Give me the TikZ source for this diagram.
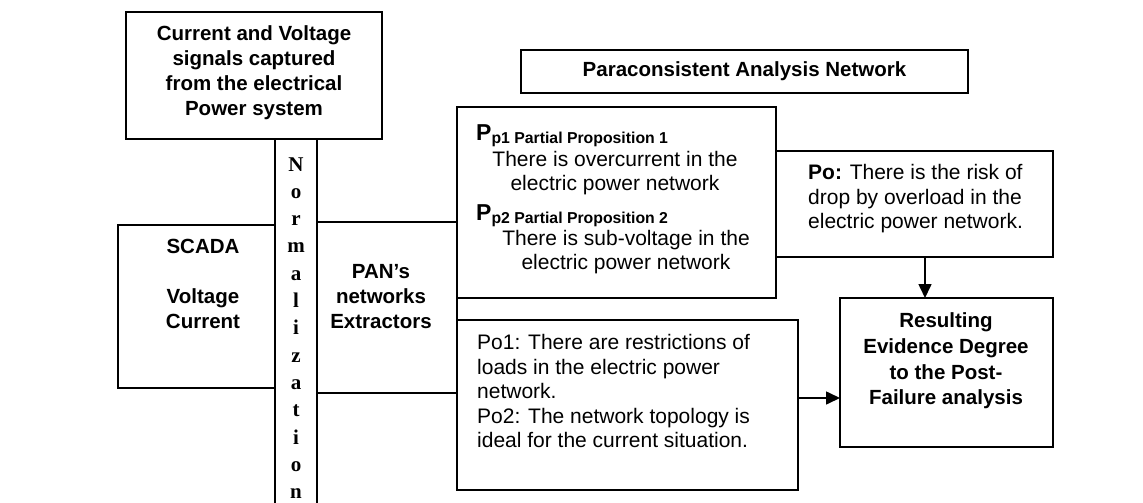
\documentclass[tikz,border=0pt]{standalone}
\usepackage{fontspec}
\setmainfont{Liberation Sans}
\newfontfamily\normfont{Liberation Serif}
\usepackage{tikz}
\usetikzlibrary{calc}
\usetikzlibrary{arrows.meta}
\usetikzlibrary{positioning}

\tikzset{
    blockbox/.style={draw, line width=1.6pt, inner sep=0pt, outer sep=0pt, anchor=north west},
    boldtxt/.style={font=\fontsize{20.5}{25}\selectfont\bfseries, align=center, inner sep=0pt},
    plaintxt/.style={font=\fontsize{21}{24.5}\selectfont, inner sep=0pt},
    normtxt/.style={font=\fontsize{21}{24}\selectfont\normfont\bfseries, inner sep=0pt, anchor=base},
    flow/.style={line width=1.6pt, -{Triangle[length=14pt,width=13pt]}}
}

\begin{document}
\begin{tikzpicture}[x=1pt, y=-1pt]
            \useasboundingbox (0,0) rectangle (1143,503);
            % Left column
            \node[blockbox, minimum width=256pt, minimum height=127pt] (signals) at (126, 12) {};
            \node[blockbox, minimum width= 42pt, minimum height=375pt] (norm)    at (275,139) {};
            \node[blockbox, minimum width=157pt, minimum height=163pt] (scada)   at (118,225) {};
            \node[blockbox, minimum width=140pt, minimum height=171pt] (pan)     at (317,222) {};
            % Analysis network
            \node[blockbox, minimum width=447pt, minimum height= 43pt] (title)   at (521, 50) {};
            \node[blockbox, minimum width=319pt, minimum height=191pt] (partial) at (457,107) {};
            \node[blockbox, minimum width=277pt, minimum height=106pt] (pobox)   at (776,151) {};
            \node[blockbox, minimum width=341pt, minimum height=170pt] (po1box)  at (457,320) {};
            \node[blockbox, minimum width=213pt, minimum height=149pt] (result)  at (840,298) {};
            % Texts
            \node[boldtxt] (signalstext) at (254, 73) {Current and Voltage\\signals captured\\from the electrical\\Power system};
            \node[boldtxt] (scadatext)   at (203,284) {SCADA\\[25pt]Voltage\\Current};
            \node[boldtxt] (pantext)     at (381,297) {PAN’s\\networks\\Extractors};
            \node[boldtxt] (titletext)   at (title.center) {Paraconsistent Analysis Network};
            \node[boldtxt, font=\fontsize{20.5}{25.7}\selectfont\bfseries] (resulttext) at (946,361)
                 {Resulting\\Evidence Degree\\to the Post-\\Failure analysis};
            \foreach \ch [count=\i from 0] in {N,o,r,m,a,l,i,z,a,t,i,o,n}
                \node[normtxt] (nl\i) at (296, 171+27.3*\i) {\ch};
            % Partial propositions
            \node[anchor=base west, inner sep=0pt, font=\bfseries] (pp1) at (476,140)
                 {\fontsize{23}{24}\selectfont P\raisebox{-3pt}{\fontsize{15.8}{18}\selectfont p1 Partial Proposition 1}};
            \node[plaintxt, align=center] (pp1text) at (615,173) {There is overcurrent in the\\electric power network};
            \node[anchor=base west, inner sep=0pt, font=\bfseries] (pp2) at (476,220)
                 {\fontsize{23}{24}\selectfont P\raisebox{-3pt}{\fontsize{15.8}{18}\selectfont p2 Partial Proposition 2}};
            \node[plaintxt, align=center] (pp2text) at (626,252) {There is sub-voltage in the\\electric power network};
            \node[plaintxt, align=left, anchor=west] (potext)  at (808,199)
                 {\textbf{Po:} There is the risk of\\drop by overload in the\\electric power network.};
            \node[plaintxt, align=left, anchor=west] (po1text) at (477,391)
                 {Po1: There are restrictions of\\loads in the electric power\\network.\\Po2: The network topology is\\ideal for the current situation.};
            % Arrows into the result
            \coordinate (drop) at (925,257);
            \coordinate (feed) at (798,398);
            \draw[flow] (drop) -- (drop |- result.north);
            \draw[flow] (feed) -- (feed -| result.west);
        \end{tikzpicture}
\end{document}
